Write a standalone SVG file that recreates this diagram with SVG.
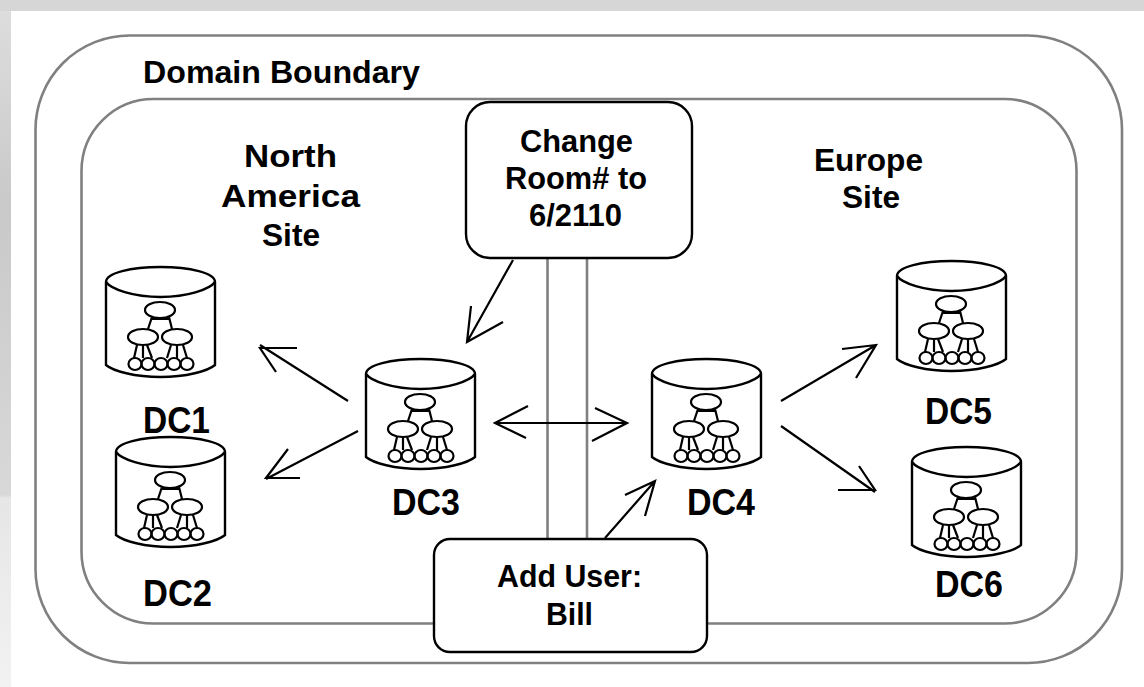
<svg xmlns="http://www.w3.org/2000/svg" width="1144" height="687" viewBox="0 0 1144 687">
<style>
.frame{fill:none;stroke:#808080;stroke-width:2.6}
.rail{stroke:#808080;stroke-width:2.6;fill:none}
.box{fill:#fff;stroke:#000;stroke-width:2.4}
.ln{fill:none;stroke:#000;stroke-width:2.2}
.ar{fill:none;stroke:#000;stroke-width:2.2}
.cy{fill:#fff;stroke:#000;stroke-width:2.4}
.tr{fill:none;stroke:#000;stroke-width:2.2}
text{font-family:"Liberation Sans",Arial,sans-serif;font-weight:bold;fill:#000;font-size:31px}
.dc{font-size:36px}
</style>
<defs>
<linearGradient id="lg" x1="0" y1="0" x2="0" y2="1">
<stop offset="0" stop-color="#dedede"/><stop offset="0.3" stop-color="#c9c9c9"/><stop offset="0.72" stop-color="#d8d8d8"/><stop offset="0.725" stop-color="#e6e6e6"/><stop offset="1" stop-color="#f2f2f2"/>
</linearGradient>
<g id="cyl">
<path class="cy" d="M1 15V98C8 104 30 110 55.500 110C81 110 103 104 110 98V15C110 6 85 0 55.500 0C26 0 1 6 1 15Z"/>
<path class="cy" d="M1 15C6 22 28 30 55.500 30C83 30 105 22 110 15" style="fill:none"/>
<g class="tr">
<ellipse cx="55" cy="43" rx="15" ry="8"/>
<ellipse cx="38" cy="70" rx="15" ry="8"/>
<ellipse cx="72" cy="70" rx="15" ry="8"/>
<path d="M47 50L43 62M64 50L67 62M46 52H64"/>
<path d="M32 78L29 91M38 78V91M42 78L47 91M66 78L62 91M72 78V91M78 78L82 91"/>
<ellipse cx="30" cy="97" rx="6.500" ry="6"/>
<ellipse cx="43" cy="97" rx="6.500" ry="6"/>
<ellipse cx="56" cy="97" rx="6.500" ry="6"/>
<ellipse cx="69" cy="97" rx="6.500" ry="6"/>
<ellipse cx="82" cy="97" rx="6.500" ry="6"/>
</g>
</g>
</defs>
<rect width="1144" height="687" fill="#fff"/>
<rect x="0" y="0" width="11" height="687" fill="url(#lg)"/>
<rect x="0" y="0" width="1144" height="11" fill="#d6d6d6"/>

<g id="domain-boundary">
<rect class="frame" x="35.500" y="35.500" width="1086.500" height="627.500" rx="94" ry="94"/>
<text x="143" y="83" textLength="277" lengthAdjust="spacingAndGlyphs">Domain Boundary</text>
</g>
<g id="sites">
<rect class="frame" x="81.500" y="99" width="995" height="524.500" rx="72" ry="72"/>
<text x="244" y="167" textLength="93" lengthAdjust="spacingAndGlyphs">North</text>
<text x="221" y="207" textLength="139" lengthAdjust="spacingAndGlyphs">America</text>
<text x="262" y="246" textLength="58" lengthAdjust="spacingAndGlyphs">Site</text>
<text x="814" y="171" textLength="109" lengthAdjust="spacingAndGlyphs">Europe</text>
<text x="842" y="208" textLength="58" lengthAdjust="spacingAndGlyphs">Site</text>
</g>

<g id="connectors">
<path class="rail" d="M547.500 258V539M587 258V539"/>
<path class="ar" d="M348 401L260 345M297 348H260L276 372"/>
<path class="ar" d="M358 431L266 479M300 478H266L288 449"/>
<path class="ar" d="M513 260L467 342M471 306L467 342L503 322"/>
<path class="ar" d="M495 423H627M528 406L495 423L526 438M595 408L627 423L592 441"/>
<path class="ar" d="M605 538L655 481M625 495L655 481L645 516"/>
<path class="ar" d="M781 401L876 345M842 349L876 345L856 378"/>
<path class="ar" d="M781 426L875 492M838 490H875L859 466"/>
</g>

<g id="change-room"><rect class="box" x="466" y="102" width="226" height="156" rx="24" ry="24"/>
<text x="520" y="152" textLength="113" lengthAdjust="spacingAndGlyphs">Change</text>
<text x="505" y="189" textLength="142" lengthAdjust="spacingAndGlyphs">Room# to</text>
<text x="529" y="226" textLength="93" lengthAdjust="spacingAndGlyphs">6/2110</text></g>
<g id="add-user"><rect class="box" x="434" y="539" width="273" height="113" rx="16" ry="16"/>
<text x="497" y="587" textLength="145" lengthAdjust="spacingAndGlyphs">Add User:</text>
<text x="546" y="625" textLength="47" lengthAdjust="spacingAndGlyphs">Bill</text></g>

<g id="dc1"><use href="#cyl" x="105" y="267"/><text class="dc" x="143" y="433" textLength="67" lengthAdjust="spacingAndGlyphs">DC1</text></g>
<g id="dc2"><use href="#cyl" x="115" y="437"/><text class="dc" x="143" y="606" textLength="69" lengthAdjust="spacingAndGlyphs">DC2</text></g>
<g id="dc3"><use href="#cyl" x="365" y="359"/><text class="dc" x="392" y="515" textLength="68" lengthAdjust="spacingAndGlyphs">DC3</text></g>
<g id="dc4"><use href="#cyl" x="651" y="359"/><text class="dc" x="687" y="515" textLength="68" lengthAdjust="spacingAndGlyphs">DC4</text></g>
<g id="dc5"><use href="#cyl" x="896" y="261"/><text class="dc" x="925" y="424" textLength="67" lengthAdjust="spacingAndGlyphs">DC5</text></g>
<g id="dc6"><use href="#cyl" x="911" y="447"/><text class="dc" x="935" y="597" textLength="68" lengthAdjust="spacingAndGlyphs">DC6</text></g>
</svg>
